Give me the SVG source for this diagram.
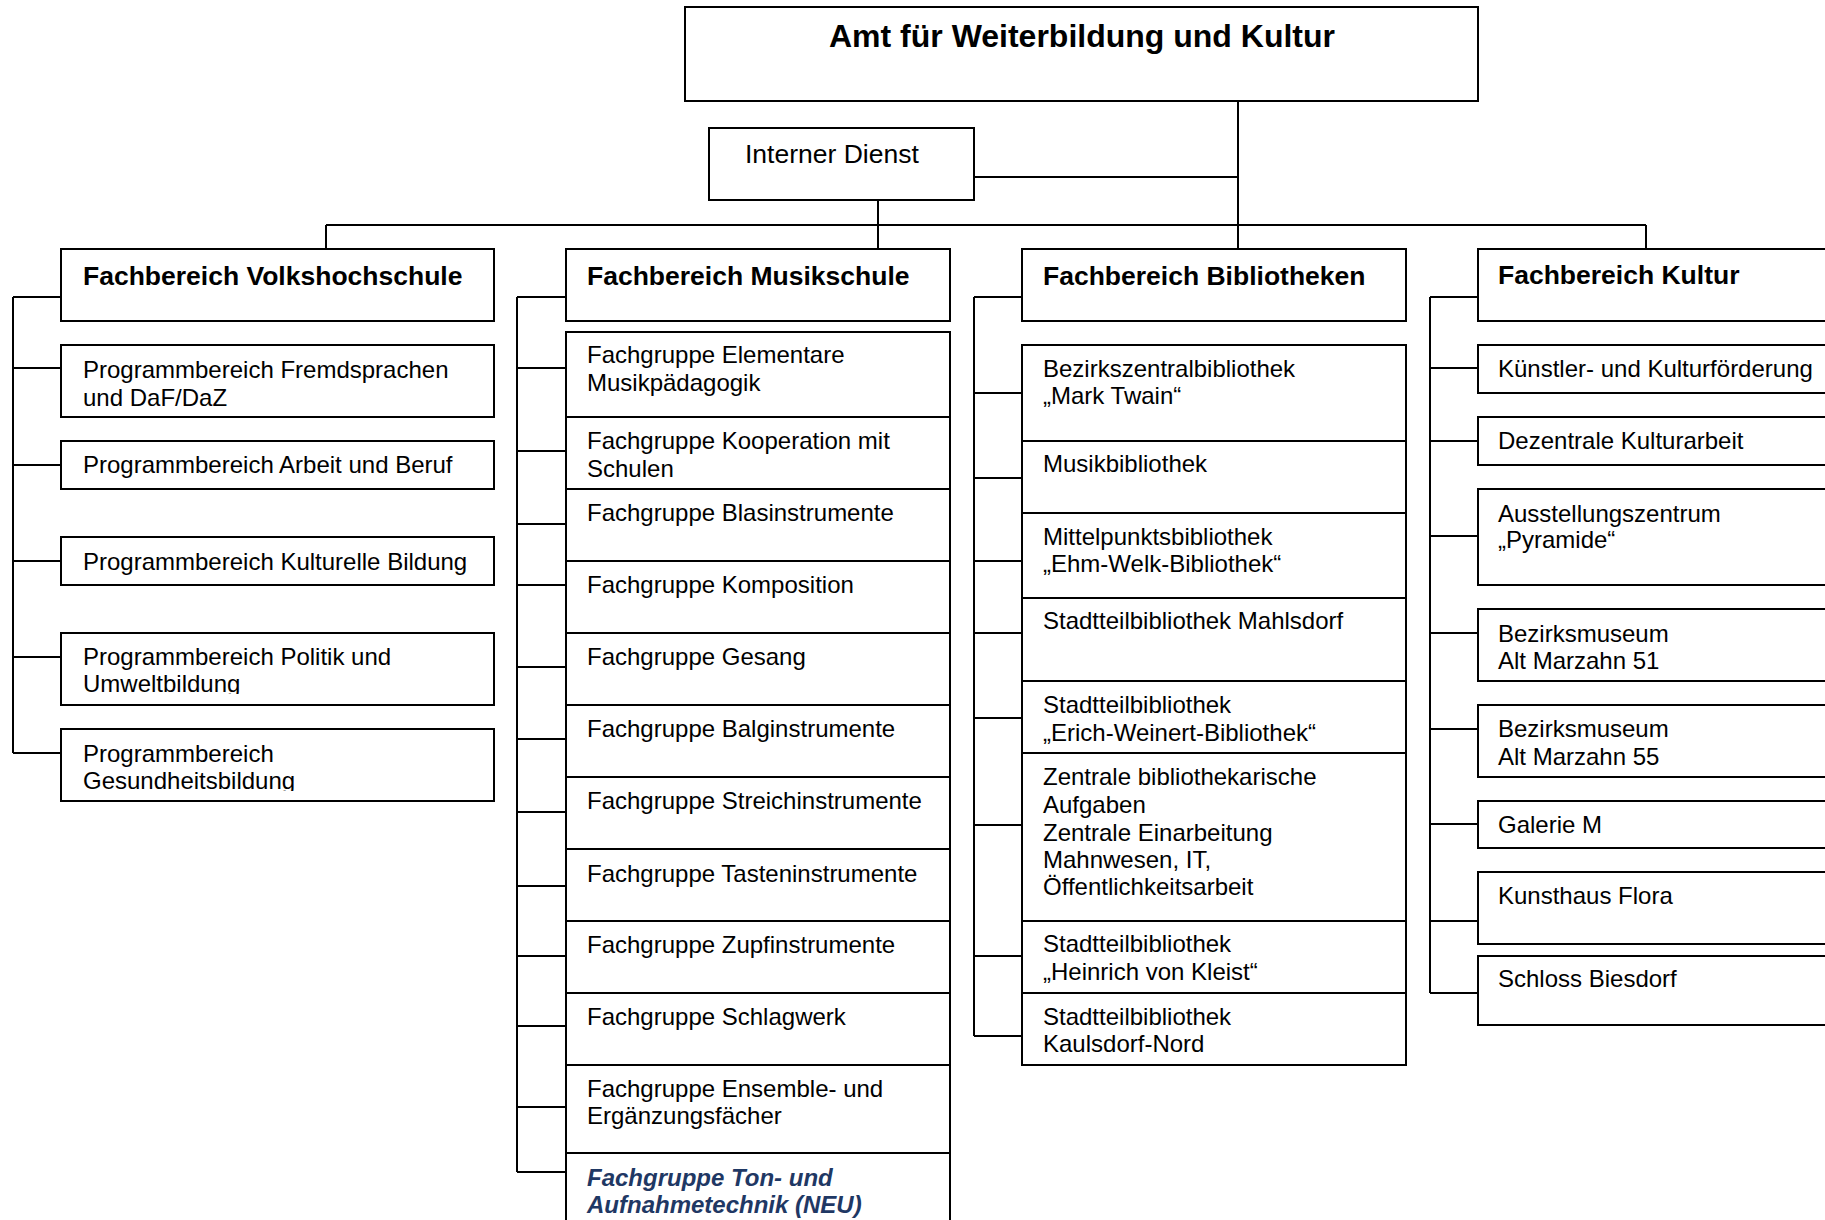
<svg xmlns="http://www.w3.org/2000/svg" width="1825" height="1220" viewBox="0 0 1825 1220">
<style>
rect{fill:#fff;stroke:#000;stroke-width:2}
#connectors path{fill:none;stroke:#000;stroke-width:2}
text{font-family:"Liberation Sans",Arial,sans-serif;font-size:24px;fill:#000}
.t{font-weight:bold;font-size:32px;text-anchor:middle}
.h{font-weight:bold;font-size:26.5px}
.id{font-size:26.5px}
.neu{font-weight:bold;font-style:italic;fill:#1F3864}
</style>
<defs>
<clipPath id="c1"><rect x="61" y="633" width="433" height="61"/></clipPath>
<clipPath id="c2"><rect x="61" y="729" width="433" height="62"/></clipPath>
</defs>
<rect x="0" y="0" width="1825" height="1220" style="stroke:none"/>
<g id="connectors">
<path d="M1238 101V249M974 177H1238M878 200V249M326 225H1646M326 225V249M1646 225V249"/>
<path d="M13 297V753M13 297H61M13 368H61M13 465H61M13 561H61M13 657H61M13 753H61"/>
<path d="M517 297V1172M517 297H566M517 368H566M517 451H566M517 524H566M517 585H566M517 667H566M517 739H566M517 812H566M517 886H566M517 956H566M517 1026H566M517 1107H566M517 1172H566"/>
<path d="M974 297V1036M974 297H1022M974 393H1022M974 478H1022M974 561H1022M974 633H1022M974 718H1022M974 825H1022M974 956H1022M974 1036H1022"/>
<path d="M1430 297V993M1430 297H1478M1430 368H1478M1430 441H1478M1430 536H1478M1430 633H1478M1430 729H1478M1430 824H1478M1430 921H1478M1430 993H1478"/>
</g>
<g id="amt"><rect x="685" y="7" width="793" height="94"/><text class="t" x="1082" y="47">Amt für Weiterbildung und Kultur</text></g>
<g id="interner-dienst"><rect x="709" y="128" width="265" height="72"/><text class="id" x="745" y="163">Interner Dienst</text></g>

<g id="fb-vhs"><rect x="61" y="249" width="433" height="72"/><text class="h" x="83" y="285">Fachbereich Volkshochschule</text></g>
<g id="vhs-1"><rect x="61" y="345" width="433" height="72"/><text x="83" y="378">Programmbereich Fremdsprachen</text><text x="83" y="406">und DaF/DaZ</text></g>
<g id="vhs-2"><rect x="61" y="441" width="433" height="48"/><text x="83" y="473">Programmbereich Arbeit und Beruf</text></g>
<g id="vhs-3"><rect x="61" y="537" width="433" height="48"/><text x="83" y="570">Programmbereich Kulturelle Bildung</text></g>
<g id="vhs-4"><rect x="61" y="633" width="433" height="72"/><g clip-path="url(#c1)"><text x="83" y="665">Programmbereich Politik und</text><text x="83" y="692">Umweltbildung</text></g></g>
<g id="vhs-5"><rect x="61" y="729" width="433" height="72"/><g clip-path="url(#c2)"><text x="83" y="762">Programmbereich</text><text x="83" y="789">Gesundheitsbildung</text></g></g>

<g id="fb-musik"><rect x="566" y="249" width="384" height="72"/><text class="h" x="587" y="285">Fachbereich Musikschule</text></g>
<g id="mu-1"><rect x="566" y="332" width="384" height="85"/><text x="587" y="363">Fachgruppe Elementare</text><text x="587" y="391">Musikpädagogik</text></g>
<g id="mu-2"><rect x="566" y="417" width="384" height="72"/><text x="587" y="449">Fachgruppe Kooperation mit</text><text x="587" y="477">Schulen</text></g>
<g id="mu-3"><rect x="566" y="489" width="384" height="72"/><text x="587" y="521">Fachgruppe Blasinstrumente</text></g>
<g id="mu-4"><rect x="566" y="561" width="384" height="72"/><text x="587" y="593">Fachgruppe Komposition</text></g>
<g id="mu-5"><rect x="566" y="633" width="384" height="72"/><text x="587" y="665">Fachgruppe Gesang</text></g>
<g id="mu-6"><rect x="566" y="705" width="384" height="72"/><text x="587" y="737">Fachgruppe Balginstrumente</text></g>
<g id="mu-7"><rect x="566" y="777" width="384" height="72"/><text x="587" y="809">Fachgruppe Streichinstrumente</text></g>
<g id="mu-8"><rect x="566" y="849" width="384" height="72"/><text x="587" y="882">Fachgruppe Tasteninstrumente</text></g>
<g id="mu-9"><rect x="566" y="921" width="384" height="72"/><text x="587" y="953">Fachgruppe Zupfinstrumente</text></g>
<g id="mu-10"><rect x="566" y="993" width="384" height="72"/><text x="587" y="1025">Fachgruppe Schlagwerk</text></g>
<g id="mu-11"><rect x="566" y="1065" width="384" height="88"/><text x="587" y="1097">Fachgruppe Ensemble- und</text><text x="587" y="1124">Ergänzungsfächer</text></g>
<g id="mu-12"><rect x="566" y="1153" width="384" height="90"/><text class="neu" x="587" y="1186">Fachgruppe Ton- und</text><text class="neu" x="587" y="1213">Aufnahmetechnik (NEU)</text></g>

<g id="fb-bib"><rect x="1022" y="249" width="384" height="72"/><text class="h" x="1043" y="285">Fachbereich Bibliotheken</text></g>
<g id="bib-1"><rect x="1022" y="345" width="384" height="96"/><text x="1043" y="377">Bezirkszentralbibliothek</text><text x="1043" y="404">„Mark Twain“</text></g>
<g id="bib-2"><rect x="1022" y="441" width="384" height="72"/><text x="1043" y="472">Musikbibliothek</text></g>
<g id="bib-3"><rect x="1022" y="513" width="384" height="85"/><text x="1043" y="545">Mittelpunktsbibliothek</text><text x="1043" y="572">„Ehm-Welk-Bibliothek“</text></g>
<g id="bib-4"><rect x="1022" y="598" width="384" height="83"/><text x="1043" y="629">Stadtteilbibliothek Mahlsdorf</text></g>
<g id="bib-5"><rect x="1022" y="681" width="384" height="72"/><text x="1043" y="713">Stadtteilbibliothek</text><text x="1043" y="741">„Erich-Weinert-Bibliothek“</text></g>
<g id="bib-6"><rect x="1022" y="753" width="384" height="168"/><text x="1043" y="785">Zentrale bibliothekarische</text><text x="1043" y="813">Aufgaben</text><text x="1043" y="841">Zentrale Einarbeitung</text><text x="1043" y="868">Mahnwesen, IT,</text><text x="1043" y="895">Öffentlichkeitsarbeit</text></g>
<g id="bib-7"><rect x="1022" y="921" width="384" height="72"/><text x="1043" y="952">Stadtteilbibliothek</text><text x="1043" y="980">„Heinrich von Kleist“</text></g>
<g id="bib-8"><rect x="1022" y="993" width="384" height="72"/><text x="1043" y="1025">Stadtteilbibliothek</text><text x="1043" y="1052">Kaulsdorf-Nord</text></g>

<g id="fb-kultur"><rect x="1478" y="249" width="384" height="72"/><text class="h" x="1498" y="284">Fachbereich Kultur</text></g>
<g id="ku-1"><rect x="1478" y="345" width="384" height="48"/><text x="1498" y="377">Künstler- und Kulturförderung</text></g>
<g id="ku-2"><rect x="1478" y="417" width="384" height="48"/><text x="1498" y="449">Dezentrale Kulturarbeit</text></g>
<g id="ku-3"><rect x="1478" y="489" width="384" height="96"/><text x="1498" y="522">Ausstellungszentrum</text><text x="1498" y="548">„Pyramide“</text></g>
<g id="ku-4"><rect x="1478" y="609" width="384" height="72"/><text x="1498" y="642">Bezirksmuseum</text><text x="1498" y="669">Alt Marzahn 51</text></g>
<g id="ku-5"><rect x="1478" y="705" width="384" height="72"/><text x="1498" y="737">Bezirksmuseum</text><text x="1498" y="765">Alt Marzahn 55</text></g>
<g id="ku-6"><rect x="1478" y="801" width="384" height="47"/><text x="1498" y="833">Galerie M</text></g>
<g id="ku-7"><rect x="1478" y="872" width="384" height="72"/><text x="1498" y="904">Kunsthaus Flora</text></g>
<g id="ku-8"><rect x="1478" y="956" width="384" height="69"/><text x="1498" y="987">Schloss Biesdorf</text></g>
</svg>
